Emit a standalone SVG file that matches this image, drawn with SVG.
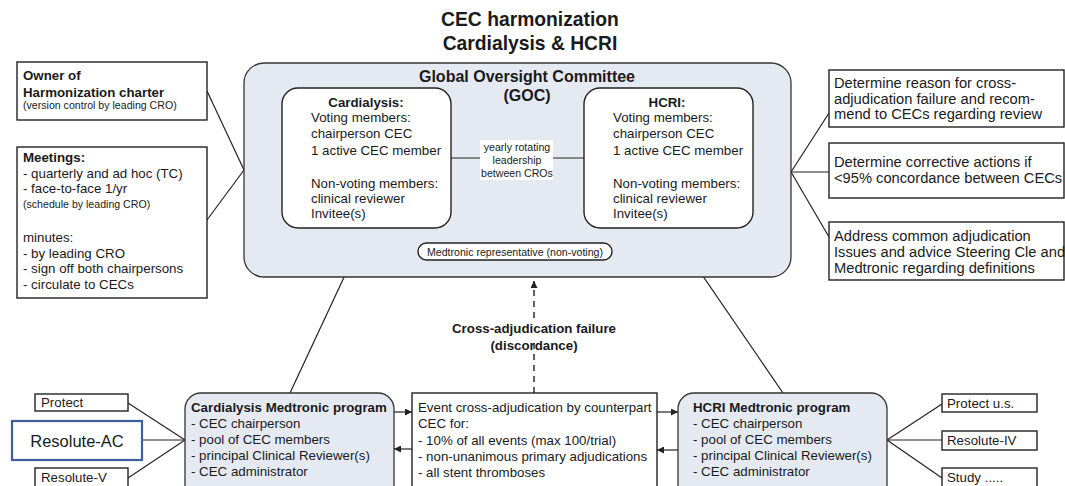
<svg xmlns="http://www.w3.org/2000/svg" width="1065" height="486" viewBox="0 0 1065 486">
<style>
text{font-family:"Liberation Sans",Arial,Helvetica,sans-serif;fill:#1a1a1a}
.t{font-size:13.3px}
.b{font-weight:bold}
.s{font-size:10.6px}
.r{font-size:14.7px}
.box{fill:#fff;stroke:#222;stroke-width:1.4}
.blue{fill:#e5eaf2;stroke:#333;stroke-width:1.3}
.ln{stroke:#222;stroke-width:1.2;fill:none}
.dash{stroke:#222;stroke-width:1.4;fill:none;stroke-dasharray:6,5}
.mid{text-anchor:middle}
</style>
<defs>
<marker id="ah" viewBox="0 0 10 10" refX="10" refY="5" markerWidth="7" markerHeight="7" orient="auto" markerUnits="userSpaceOnUse">
<path d="M0,0 L10,5 L0,10 z" fill="#222"/>
</marker>
</defs>
<rect width="1065" height="486" fill="#fff"/>
<g id="title">
<text x="530" y="26" class="b mid" style="font-size:19.3px">CEC harmonization</text>
<text x="530" y="50" class="b mid" style="font-size:19.3px">Cardialysis &amp; HCRI</text>
</g>
<g id="connectors">
<line class="ln" x1="207" y1="91" x2="244" y2="170"/>
<line class="ln" x1="207" y1="220" x2="244" y2="170"/>
<line class="ln" x1="791" y1="172" x2="829" y2="113"/>
<line class="ln" x1="791" y1="172" x2="829" y2="172"/>
<line class="ln" x1="791" y1="172" x2="829" y2="237"/>
<line class="ln" x1="367" y1="228" x2="290" y2="393"/>
<line class="ln" x1="670" y1="228" x2="783" y2="393"/>
<line class="dash" x1="534" y1="393" x2="534" y2="338"/>
<line class="dash" x1="534" y1="318" x2="534" y2="281" marker-end="url(#ah)"/>
<line class="ln" x1="394" y1="412" x2="412" y2="412" marker-end="url(#ah)"/>
<line class="ln" x1="412" y1="449" x2="394" y2="449" marker-end="url(#ah)"/>
<line class="ln" x1="657" y1="412" x2="678" y2="412" marker-end="url(#ah)"/>
<line class="ln" x1="678" y1="450" x2="657" y2="450" marker-end="url(#ah)"/>
<line class="ln" x1="128" y1="403" x2="185" y2="440"/>
<line class="ln" x1="142" y1="440" x2="185" y2="440"/>
<line class="ln" x1="128" y1="478" x2="185" y2="440"/>
<line class="ln" x1="887" y1="440" x2="942" y2="404"/>
<line class="ln" x1="887" y1="440" x2="942" y2="440"/>
<line class="ln" x1="887" y1="440" x2="942" y2="478"/>
<text x="534" y="333" class="t b mid">Cross-adjudication failure</text>
<text x="534" y="350" class="t b mid">(discordance)</text>
</g>
<g id="owner">
<rect class="box" x="17" y="62" width="190" height="58"/>
<text x="23" y="80" class="t b">Owner of</text>
<text x="23" y="97" class="t b">Harmonization charter</text>
<text x="23" y="109" class="s">(version control by leading CRO)</text>
</g>
<g id="meetings">
<rect class="box" x="17" y="147" width="190" height="151"/>
<text x="23" y="162" class="t b">Meetings:</text>
<text x="23" y="178" class="t">- quarterly and ad hoc (TC)</text>
<text x="23" y="193" class="t">- face-to-face 1/yr</text>
<text x="23" y="208" class="s">(schedule by leading CRO)</text>
<text x="23" y="242" class="t">minutes:</text>
<text x="23" y="258" class="t">- by leading CRO</text>
<text x="23" y="273" class="t">- sign off both chairpersons</text>
<text x="23" y="289" class="t">- circulate to CECs</text>
</g>
<g id="goc">
<rect class="blue" x="244" y="63" width="547" height="214" rx="20"/>
<text x="527" y="82" class="b mid" style="font-size:16px">Global Oversight Committee</text>
<text x="527" y="101" class="b mid" style="font-size:16px">(GOC)</text>
</g>
<g id="cardialysis">
<rect class="box" x="282" y="88" width="169" height="140" rx="16"/>
<text x="366" y="107" class="t b mid">Cardialysis:</text>
<text x="311" y="122" class="t">Voting members:</text>
<text x="311" y="138" class="t">chairperson CEC</text>
<text x="311" y="155" class="t">1 active CEC member</text>
<text x="311" y="188" class="t">Non-voting members:</text>
<text x="311" y="203" class="t">clinical reviewer</text>
<text x="311" y="218" class="t">Invitee(s)</text>
</g>
<g id="hcri">
<rect class="box" x="584" y="88" width="169" height="140" rx="16"/>
<text x="667" y="107" class="t b mid">HCRI:</text>
<text x="613" y="122" class="t">Voting members:</text>
<text x="613" y="138" class="t">chairperson CEC</text>
<text x="613" y="155" class="t">1 active CEC member</text>
<text x="613" y="188" class="t">Non-voting members:</text>
<text x="613" y="203" class="t">clinical reviewer</text>
<text x="613" y="218" class="t">Invitee(s)</text>
</g>
<g id="rotation">
<line class="ln" x1="451" y1="158" x2="584" y2="158"/>
<rect x="480" y="140" width="73" height="40" fill="#fff"/>
<text x="517" y="151" class="s mid">yearly rotating</text>
<text x="517" y="164" class="s mid">leadership</text>
<text x="517" y="177" class="s mid">between CROs</text>
</g>
<g id="medtronic-rep">
<rect class="box" x="418" y="243" width="194" height="17" rx="8.5"/>
<text x="515" y="255.5" class="s mid">Medtronic representative (non-voting)</text>
</g>
<g id="reason">
<rect class="box" x="829" y="70" width="235" height="57"/>
<text x="834" y="88" class="r">Determine reason for cross-</text>
<text x="834" y="104" class="r">adjudication failure and recom-</text>
<text x="834" y="119" class="r">mend to CECs regarding review</text>
</g>
<g id="corrective">
<rect class="box" x="829" y="143" width="235" height="55"/>
<text x="834" y="167" class="r">Determine corrective actions if</text>
<text x="834" y="183" class="r">&lt;95% concordance between CECs</text>
</g>
<g id="address">
<rect class="box" x="829" y="222" width="235" height="58"/>
<text x="834" y="241" class="r">Address common adjudication</text>
<text x="834" y="257" class="r">Issues and advice Steering Cle and</text>
<text x="834" y="273" class="r">Medtronic regarding definitions</text>
</g>
<g id="cardialysis-program">
<rect class="blue" x="185" y="393" width="209" height="110" rx="16"/>
<text x="191" y="412" class="t b">Cardialysis Medtronic program</text>
<text x="191" y="428" class="t">- CEC chairperson</text>
<text x="191" y="444" class="t">- pool of CEC members</text>
<text x="191" y="460" class="t">- principal Clinical Reviewer(s)</text>
<text x="191" y="476" class="t">- CEC administrator</text>
</g>
<g id="event">
<rect class="box" x="412" y="393" width="245" height="110"/>
<text x="418" y="412" class="t">Event cross-adjudication by counterpart</text>
<text x="418" y="428" class="t">CEC for:</text>
<text x="418" y="445" class="t">- 10% of all events (max 100/trial)</text>
<text x="418" y="461" class="t">- non-unanimous primary adjudications</text>
<text x="418" y="477" class="t">- all stent thromboses</text>
</g>
<g id="hcri-program">
<rect class="blue" x="678" y="393" width="209" height="110" rx="16"/>
<text x="693" y="412" class="t b">HCRI Medtronic program</text>
<text x="693" y="428" class="t">- CEC chairperson</text>
<text x="693" y="444" class="t">- pool of CEC members</text>
<text x="693" y="460" class="t">- principal Clinical Reviewer(s)</text>
<text x="693" y="476" class="t">- CEC administrator</text>
</g>
<g id="protect">
<rect class="box" x="35" y="394" width="93" height="17"/>
<text x="41" y="407" class="t">Protect</text>
</g>
<g id="resolute-ac">
<rect x="12" y="421" width="130" height="39" fill="#fff" stroke="#3c5f9e" stroke-width="2.2"/>
<text x="77" y="447" class="mid" style="font-size:16.5px">Resolute-AC</text>
</g>
<g id="resolute-v">
<rect class="box" x="35" y="468" width="93" height="30"/>
<text x="41" y="482" class="t">Resolute-V</text>
</g>
<g id="protect-us">
<rect class="box" x="942" y="394" width="95" height="18"/>
<text x="947" y="407.5" class="t">Protect u.s.</text>
</g>
<g id="resolute-iv">
<rect class="box" x="942" y="431" width="95" height="19"/>
<text x="947" y="445" class="t">Resolute-IV</text>
</g>
<g id="study">
<rect class="box" x="942" y="468" width="95" height="30"/>
<text x="947" y="482" class="t">Study .....</text>
</g>
</svg>
